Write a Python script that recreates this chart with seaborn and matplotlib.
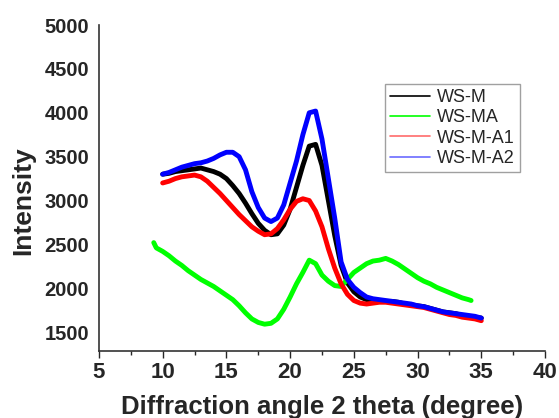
import pandas as pd
import matplotlib.pyplot as plt
import seaborn as sns
from matplotlib.ticker import MultipleLocator

# 2 theta positions (degree)
angle = [10, 10.5, 11, 11.5, 12, 12.5, 13, 13.5, 14, 14.5, 15, 15.5, 16, 16.5,
         17, 17.5, 18, 18.5, 19, 19.5, 20, 20.5, 21, 21.5, 22, 22.5, 23, 23.5,
         24, 24.5, 25, 25.5, 26, 26.5, 27, 27.5, 28, 28.5, 29, 29.5, 30, 30.5,
         31, 31.5, 32, 32.5, 33, 33.5, 34, 34.5, 35]

ws_m = [3300, 3310, 3330, 3340, 3350, 3360, 3370, 3350, 3330, 3300, 3250, 3170,
        3080, 2970, 2850, 2740, 2660, 2610, 2620, 2720, 2900, 3150, 3400, 3620,
        3640, 3400, 3000, 2600, 2260, 2060, 1960, 1900, 1870, 1860, 1860, 1850,
        1850, 1840, 1820, 1810, 1800, 1790, 1770, 1750, 1730, 1720, 1710, 1690,
        1680, 1670, 1660]

ws_m_a1 = [3200, 3220, 3250, 3270, 3280, 3290, 3270, 3220, 3150, 3080, 3000, 2920,
           2840, 2770, 2700, 2650, 2610, 2620, 2680, 2780, 2900, 2990, 3020, 3000,
           2880, 2700, 2450, 2230, 2050, 1930, 1860, 1830, 1820, 1830, 1840, 1840,
           1830, 1820, 1810, 1800, 1790, 1780, 1760, 1740, 1720, 1700, 1690, 1670,
           1660, 1650, 1630]

ws_m_a2 = [3300, 3320, 3350, 3380, 3400, 3420, 3430, 3450, 3480, 3520, 3550, 3550,
           3500, 3350, 3100, 2920, 2800, 2760, 2800, 2950, 3200, 3450, 3750, 4000,
           4020, 3700, 3250, 2800, 2300, 2100, 2010, 1950, 1900, 1880, 1870, 1860,
           1850, 1840, 1830, 1820, 1800, 1790, 1770, 1750, 1730, 1720, 1710, 1700,
           1690, 1680, 1660]

angle_ma = [9.3, 9.5, 10, 10.5, 11, 11.5, 12, 12.5, 13, 13.5, 14, 14.5, 15, 15.5,
            16, 16.5, 17, 17.5, 18, 18.5, 19, 19.5, 20, 20.5, 21, 21.5, 22, 22.5,
            23, 23.5, 24, 24.5, 25, 25.5, 26, 26.5, 27, 27.5, 28, 28.5, 29, 29.5,
            30, 30.5, 31, 31.5, 32, 32.5, 33, 33.5, 34, 34.2]

ws_ma = [2520, 2460, 2420, 2370, 2310, 2260, 2200, 2150, 2100, 2060, 2020, 1970,
         1920, 1870, 1800, 1720, 1650, 1610, 1590, 1600, 1650, 1760, 1900, 2050,
         2180, 2320, 2280, 2150, 2080, 2030, 2020, 2100, 2180, 2230, 2280, 2310,
         2320, 2340, 2310, 2270, 2220, 2170, 2120, 2080, 2050, 2010, 1980, 1950,
         1920, 1890, 1870, 1860]

sns.set_style("white")
plt.rcParams["font.family"] = ["Liberation Sans", "DejaVu Sans"]

fig = plt.figure(figsize=(5.59, 4.18), dpi=100)
ax = fig.add_axes([0.177, 0.160, 0.798, 0.780])

sns.lineplot(x=angle, y=ws_m, color="black", lw=3.5, label="WS-M", ax=ax)
sns.lineplot(x=angle_ma, y=ws_ma, color="#00ff00", lw=3.5, label="WS-MA", ax=ax)
sns.lineplot(x=angle, y=ws_m_a1, color="red", lw=3.5, label="WS-M-A1", ax=ax)
sns.lineplot(x=angle, y=ws_m_a2, color="blue", lw=3.5, label="WS-M-A2", ax=ax)

ax.set_xlim(5, 40)
ax.set_ylim(1283, 5000)
ax.xaxis.set_major_locator(MultipleLocator(5))
ax.xaxis.set_minor_locator(MultipleLocator(2.5))
ax.set_yticks([1500, 2000, 2500, 3000, 3500, 4000, 4500, 5000])
ax.tick_params(axis="x", which="major", direction="out", length=5, width=1,
               bottom=True, labelsize=16, pad=3)
ax.tick_params(axis="x", which="minor", direction="out", length=3, width=1,
               bottom=True)
ax.tick_params(axis="y", length=0, labelsize=14.5, pad=7)
for lab in ax.get_xticklabels() + ax.get_yticklabels():
    lab.set_fontweight("bold")

sns.despine(ax=ax)
for side in ["left", "bottom"]:
    ax.spines[side].set_color("#333333")
    ax.spines[side].set_linewidth(1.2)

ax.set_xlabel("Diffraction angle 2 theta (degree)", fontsize=18.5,
              fontweight="bold")
ax.set_ylabel("Intensity", fontsize=19, fontweight="bold")
ax.xaxis.set_label_coords(0.5, -0.135)
ax.yaxis.set_label_coords(-0.143, 0.46)

leg = ax.legend(loc="upper left", bbox_to_anchor=(0.641, 0.82), fontsize=13,
                frameon=True, fancybox=False, edgecolor="#888888",
                handlelength=2.2, borderpad=0.3, labelspacing=0.18,
                handletextpad=0.4, borderaxespad=0)
for h in leg.get_lines():
    h.set_linewidth(1.2)
leg.get_lines()[2].set_color("#ff6b6b")
leg.get_lines()[3].set_color("#6b6bff")

fig.savefig("out.png", dpi=100, facecolor="white")
